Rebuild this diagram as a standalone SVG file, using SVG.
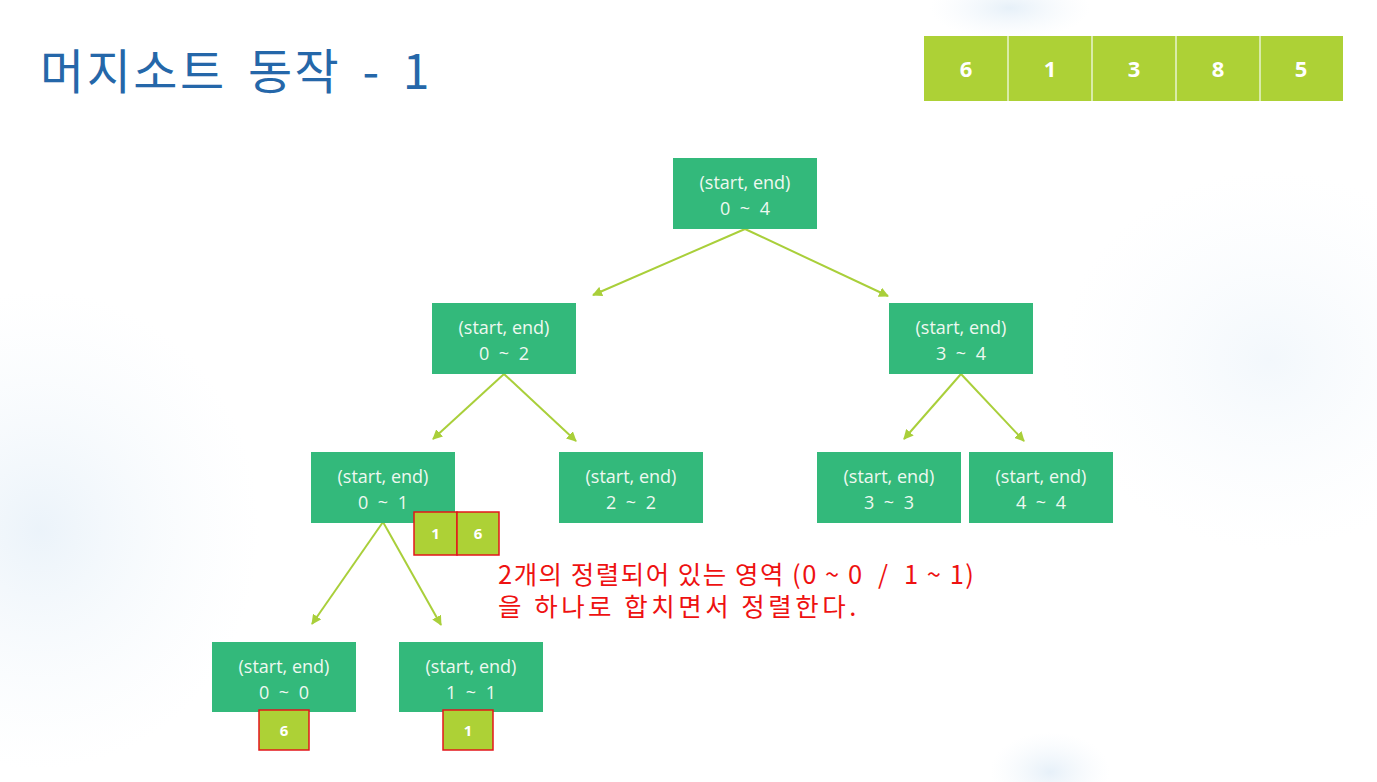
<svg xmlns="http://www.w3.org/2000/svg" width="1377" height="782" viewBox="0 0 1377 782">
<defs>
<radialGradient id="bg1" cx="0.5" cy="0.5" r="0.5"><stop offset="0" stop-color="#dceaf6" stop-opacity="0.7"/><stop offset="1" stop-color="#eef5fb" stop-opacity="0"/></radialGradient>
<marker id="ah" markerWidth="10" markerHeight="10" refX="9" refY="5" orient="auto" markerUnits="userSpaceOnUse"><path d="M0,0 L10,5 L0,10 Z" fill="#a9cf3a"/></marker>
<style>
.node rect{fill:#33b97b}
.node text{fill:#eef8f0;font-family:"Open Sans","Noto Sans",sans-serif;font-size:18px;text-anchor:middle}
.cell{fill:#add136}
.cellr{fill:#add136;stroke:#e3161b;stroke-width:1.5}
.num{fill:#ffffff;font-family:"Open Sans","Noto Sans",sans-serif;font-weight:bold;text-anchor:middle}
.conn line{stroke:#a9cf3a;stroke-width:2;marker-end:url(#ah)}
</style>
</defs>
<rect width="1377" height="782" fill="#ffffff"/>
<ellipse cx="1010" cy="8" rx="80" ry="32" fill="url(#bg1)"/>
<ellipse cx="40" cy="530" rx="220" ry="240" fill="url(#bg1)" opacity="0.8"/>
<ellipse cx="1270" cy="360" rx="210" ry="190" fill="url(#bg1)" opacity="0.5"/>
<ellipse cx="1050" cy="772" rx="60" ry="40" fill="url(#bg1)"/>

<text x="40" y="89" font-family="'Noto Sans CJK KR',sans-serif" font-size="48" letter-spacing="2.5" word-spacing="8" fill="#2567a9">머지소트 동작 - 1</text>

<g id="array">
<rect x="924" y="36" width="419" height="65" class="cell"/>
<g stroke="#e9f3d0" stroke-width="1.5">
<line x1="1008" y1="36" x2="1008" y2="101"/>
<line x1="1092" y1="36" x2="1092" y2="101"/>
<line x1="1176" y1="36" x2="1176" y2="101"/>
<line x1="1260" y1="36" x2="1260" y2="101"/>
</g>
<g class="num" font-size="22">
<text x="966" y="77">6</text>
<text x="1050" y="77">1</text>
<text x="1134" y="77">3</text>
<text x="1218" y="77">8</text>
<text x="1301" y="77">5</text>
</g>
</g>

<g id="connectors" class="conn">
<line x1="745" y1="229" x2="593" y2="295"/>
<line x1="745" y1="229" x2="888" y2="296"/>
<line x1="504" y1="374" x2="433" y2="439"/>
<line x1="504" y1="374" x2="576" y2="441"/>
<line x1="961" y1="374" x2="904" y2="439"/>
<line x1="961" y1="374" x2="1024" y2="441"/>
<line x1="383" y1="522" x2="312" y2="624"/>
<line x1="383" y1="522" x2="441" y2="625"/>
</g>

<g id="n04" class="node"><rect x="673" y="158" width="144" height="71"/><text x="745" y="189">(start, end)</text><text x="745" y="215" word-spacing="5">0 ~ 4</text></g>
<g id="n02" class="node"><rect x="432" y="303" width="144" height="71"/><text x="504" y="334">(start, end)</text><text x="504" y="360" word-spacing="5">0 ~ 2</text></g>
<g id="n34" class="node"><rect x="889" y="303" width="144" height="71"/><text x="961" y="334">(start, end)</text><text x="961" y="360" word-spacing="5">3 ~ 4</text></g>
<g id="n01" class="node"><rect x="311" y="452" width="144" height="71"/><text x="383" y="483">(start, end)</text><text x="383" y="509" word-spacing="5">0 ~ 1</text></g>
<g id="n22" class="node"><rect x="559" y="452" width="144" height="71"/><text x="631" y="483">(start, end)</text><text x="631" y="509" word-spacing="5">2 ~ 2</text></g>
<g id="n33" class="node"><rect x="817" y="452" width="144" height="71"/><text x="889" y="483">(start, end)</text><text x="889" y="509" word-spacing="5">3 ~ 3</text></g>
<g id="n44" class="node"><rect x="969" y="452" width="144" height="71"/><text x="1041" y="483">(start, end)</text><text x="1041" y="509" word-spacing="5">4 ~ 4</text></g>
<g id="n00" class="node"><rect x="212" y="642" width="144" height="70"/><text x="284" y="673">(start, end)</text><text x="284" y="699" word-spacing="5">0 ~ 0</text></g>
<g id="n11" class="node"><rect x="399" y="642" width="144" height="70"/><text x="471" y="673">(start, end)</text><text x="471" y="699" word-spacing="5">1 ~ 1</text></g>

<g id="merged01">
<rect x="414" y="512" width="43" height="43" class="cellr"/>
<rect x="457" y="512" width="42" height="43" class="cellr"/>
<g class="num" font-size="15"><text x="435.5" y="539">1</text><text x="478" y="539">6</text></g>
</g>
<g id="v00"><rect x="259" y="710" width="50" height="40" class="cellr"/><text x="284" y="736" class="num" font-size="15">6</text></g>
<g id="v11"><rect x="443" y="710" width="50" height="40" class="cellr"/><text x="468" y="736" class="num" font-size="15">1</text></g>

<g id="note">
<text font-family="'Noto Sans CJK KR',sans-serif" font-size="25.5" letter-spacing="1.5" fill="#ee1111" xml:space="preserve"><tspan x="498" y="584">2개의 정렬되어 있는 영역 (0 ~ 0  /  1 ~ 1)</tspan><tspan x="498" y="616" letter-spacing="3.5">을 하나로 합치면서 정렬한다.</tspan></text>
</g>
</svg>
